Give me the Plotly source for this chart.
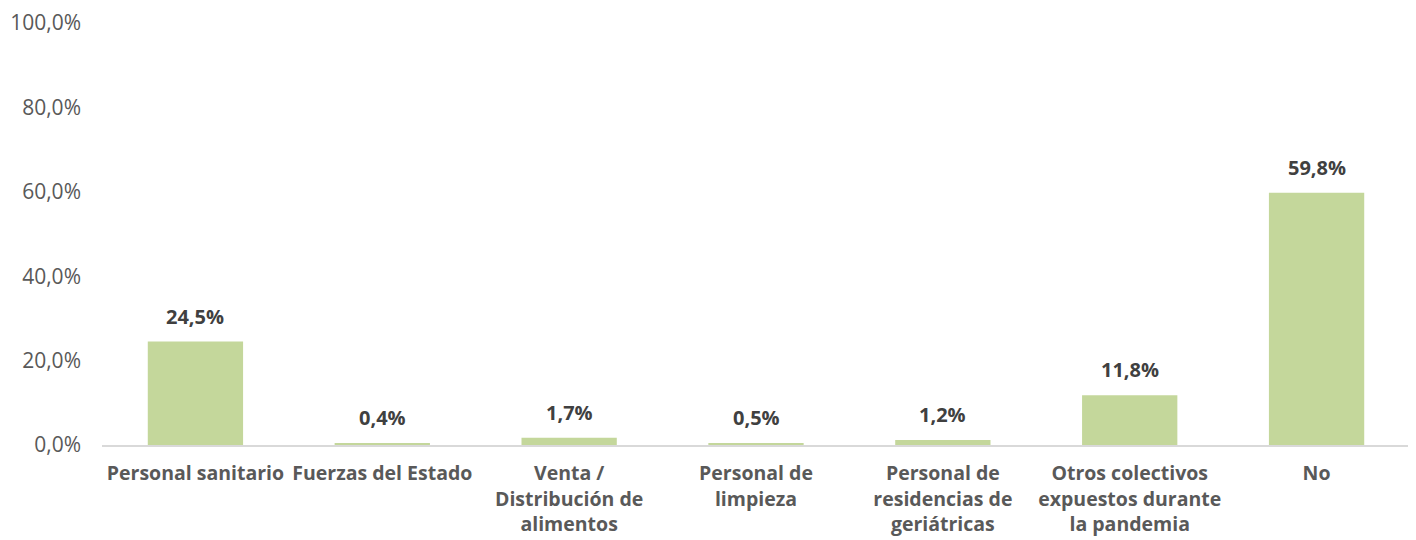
import plotly.graph_objects as go

categories = [
    "Personal sanitario",
    "Fuerzas del Estado",
    "Venta /<br>Distribución de<br>alimentos",
    "Personal de<br>limpieza",
    "Personal de<br>residencias de<br>geriátricas",
    "Otros colectivos<br>expuestos durante<br>la pandemia",
    "No",
]
values = [24.5, 0.4, 1.7, 0.5, 1.2, 11.8, 59.8]
y_ticks = [0, 20, 40, 60, 80, 100]
y_tick_labels = ["0,0%", "20,0%", "40,0%", "60,0%", "80,0%", "100,0%"]

FONT = "Open Sans"
BAR = "#C4D79B"

fig = go.Figure()
fig.add_trace(go.Bar(
    x=categories, y=values, marker=dict(color=BAR, line=dict(width=0)),
    hoverinfo="skip",
))
for c, v in zip(categories, values):
    fig.add_annotation(
        x=c, y=v, text="<b>" + f"{v:.1f}".replace(".", ",") + "%</b>",
        showarrow=False, yanchor="bottom", yshift=10,
        font=dict(family=FONT, size=20, color="#404040"),
    )

fig.update_layout(
    width=1408, height=532,
    margin=dict(l=94, r=6, t=15, b=95, autoexpand=False),
    paper_bgcolor="white", plot_bgcolor="white",
    bargap=0.49, showlegend=False,
    font=dict(family=FONT),
)
fig.update_xaxes(
    showline=True, linecolor="#D9D9D9", linewidth=2, ticks="",
    tickfont=dict(family=FONT, size=19.5, color="#595959", weight="bold"),
    ticklabelstandoff=10, automargin=False,
)
fig.update_yaxes(
    range=[0, 100], tickvals=y_ticks, ticktext=y_tick_labels,
    showgrid=False, zeroline=False, showline=False,
    tickfont=dict(family=FONT, size=21, color="#595959"),
    ticklabelstandoff=20, automargin=False,
)
fig.write_html("out.html")
